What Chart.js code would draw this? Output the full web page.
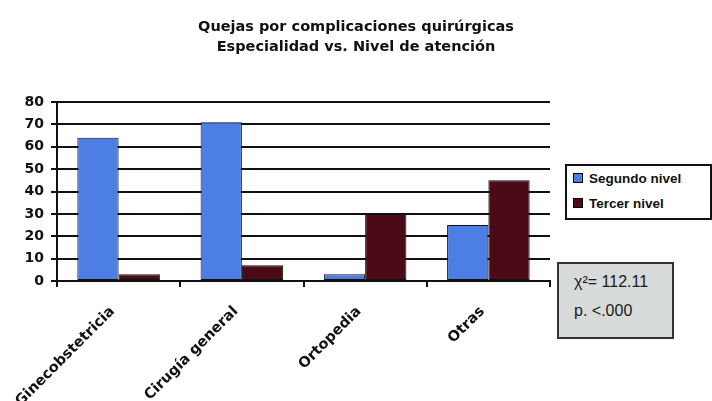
<!DOCTYPE html>
<html>
<head>
<meta charset="utf-8">
<script src="https://cdn.jsdelivr.net/npm/chart.js@4.4.0/dist/chart.umd.min.js"></script>
<style>
  html, body { margin: 0; padding: 0; background: #fff; }
  #wrap { position: relative; width: 712px; height: 401px; overflow: hidden; font-family: "Liberation Sans", Arial, sans-serif; }
  #grafica { position: absolute; left: 0; top: 0; }
  #titulo {
    position: absolute; left: 0; top: 16px; width: 712px; text-align: center;
    font-family: "DejaVu Sans", sans-serif; font-weight: bold; font-size: 14.5px; line-height: 20px; color: #111;
  }
  #leyenda {
    position: absolute; left: 565px; top: 164px; width: 143px; height: 52px;
    border: 2px solid #111; background: #fff;
  }
  .item { position: absolute; left: 6px; font-weight: bold; font-size: 13.5px; color: #111; white-space: nowrap; line-height: 16px; }
  .item span.cuadro { display: inline-block; width: 8px; height: 8px; border: 1px solid #000; margin-right: 6px; vertical-align: 0px; }
  #stats {
    position: absolute; left: 557px; top: 262px; width: 113px; height: 73px;
    border: 2px solid #333; background: #d6dbd9; color: #1a1a1a; font-size: 16px; line-height: 18px;
  }
  #stats div { position: absolute; left: 15px; }
</style>
</head>
<body>
<div id="wrap">
  <canvas id="grafica" width="712" height="401"></canvas>
  <div id="titulo"></div>
  <div id="leyenda"></div>
  <div id="stats">
    <div style="top:9px">χ²= 112.11</div>
    <div style="top:38px">p. &lt;.000</div>
  </div>
</div>
<script>
// Datos de quejas por especialidad y nivel de atención
const especialidades = ["Ginecobstetricia", "Cirugía general", "Ortopedia", "Otras"];
const segundoNivel = [64, 71, 3, 25];
const tercerNivel = [3, 7, 30, 45];
const series = ["Segundo nivel", "Tercer nivel"];
const colores = ["#4c7ee4", "#4a0b17"];
const titulo = ["Quejas por complicaciones quirúrgicas", "Especialidad vs. Nivel de atención"];

const fuente = "DejaVu Sans";

document.getElementById("titulo").innerHTML = titulo.join("<br>");

const ctx = document.getElementById("grafica").getContext("2d");
new Chart(ctx, {
  type: "bar",
  data: {
    labels: especialidades,
    datasets: [segundoNivel, tercerNivel].map((d, i) => ({
      label: series[i],
      data: d,
      backgroundColor: colores[i],
      borderColor: "#111",
      borderWidth: 1,
      borderSkipped: false,
      categoryPercentage: 0.67,
      barPercentage: 1.0
    }))
  },
  options: {
    responsive: false,
    animation: false,
    layout: { padding: { left: 0, right: 162, top: 102, bottom: 0 } },
    plugins: {
      legend: { display: false },
      tooltip: { enabled: false },
      title: { display: false }
    },
    scales: {
      x: {
        afterFit: s => { s.height = 120; },
        grid: { display: true, drawOnChartArea: false, offset: true, color: "#111", lineWidth: 2, tickLength: 6 },
        border: { color: "#111", width: 2 },
        ticks: {
          color: "#111", minRotation: 45, maxRotation: 45, padding: 16, labelOffset: -6,
          font: { family: fuente, size: 14.5, weight: "bold" }
        }
      },
      y: {
        min: 0, max: 80,
        afterFit: s => { s.width = 57; },
        grid: { color: "#111", lineWidth: 2, tickLength: 6 },
        border: { color: "#111", width: 2 },
        ticks: {
          stepSize: 10, color: "#111", padding: 7,
          font: { family: fuente, size: 14, weight: "bold" }
        }
      }
    }
  }
});

// Leyenda en HTML a partir de las series
const leyenda = document.getElementById("leyenda");
series.forEach((s, i) => {
  const el = document.createElement("div");
  el.className = "item";
  el.style.top = (5 + i * 25) + "px";
  el.innerHTML = `<span class="cuadro" style="background:${colores[i]}"></span>${s}`;
  leyenda.appendChild(el);
});
</script>
</body>
</html>
